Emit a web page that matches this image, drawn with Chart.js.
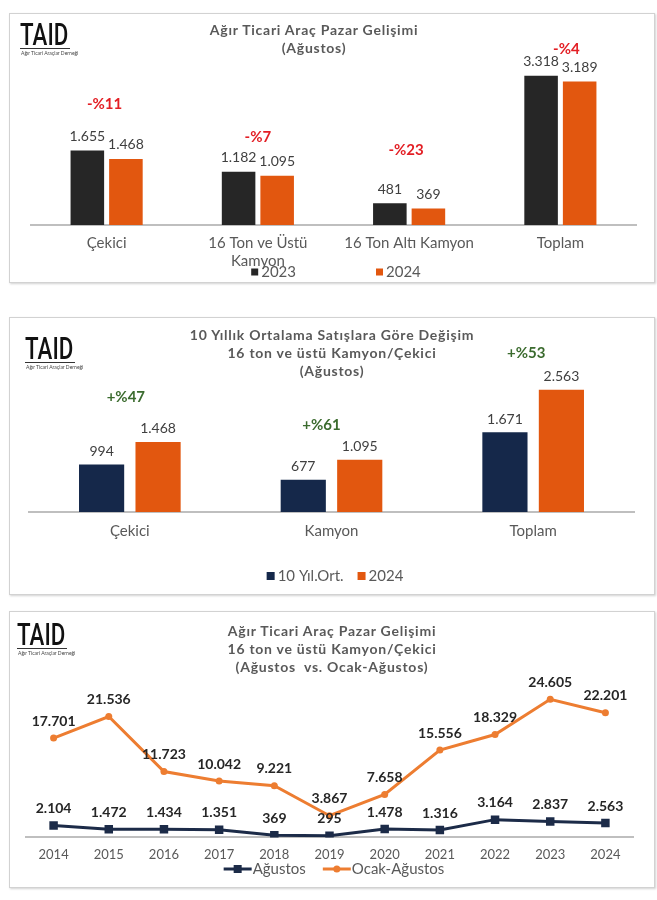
<!DOCTYPE html>
<html><head><meta charset="utf-8">
<script src="https://cdn.jsdelivr.net/npm/chart.js@4.4.1/dist/chart.umd.min.js"></script>
<style>
html,body{margin:0;padding:0;background:#fff;}
body{width:657px;height:900px;position:relative;overflow:hidden;font-family:Lato,sans-serif;}
.panel{position:absolute;left:9px;width:646px;border:1px solid #d2d2d2;box-sizing:border-box;box-shadow:1px 1px 2px rgba(0,0,0,0.18);background:#fff;}
canvas{position:absolute;left:0;}
.title{position:absolute;font-weight:bold;font-size:14px;line-height:18px;letter-spacing:0.75px;color:#595959;text-align:center;white-space:nowrap;transform:translateX(-50%);}
.logo{position:absolute;width:60px;height:40px;}
.logo .taid{position:absolute;left:0;top:0;font-family:Roboto,sans-serif;font-weight:500;font-size:31px;line-height:32px;color:#111;transform:scaleX(0.72);transform-origin:left top;white-space:nowrap;}
.logo .rule{position:absolute;left:0;top:29px;width:50px;height:1px;background:#333;}
.logo .sub{position:absolute;left:1px;top:31px;font-size:5px;line-height:6px;color:#444;white-space:nowrap;}
</style>
</head><body>
<div class="panel" style="top:13px;height:270px"></div>
<div class="panel" style="top:317px;height:278px"></div>
<div class="panel" style="top:611px;height:277px"></div>

<canvas id="c1" width="657" height="272" style="top:13px"></canvas>
<canvas id="c2" width="657" height="280" style="top:317px"></canvas>
<canvas id="c3" width="657" height="278" style="top:611px"></canvas>

<div class="logo" style="left:20px;top:19px"><div class="taid">TAID</div><div class="rule"></div><div class="sub">Ağır Ticari Araçlar Derneği</div></div>
<div class="logo" style="left:25px;top:333px"><div class="taid">TAID</div><div class="rule"></div><div class="sub">Ağır Ticari Araçlar Derneği</div></div>
<div class="logo" style="left:17px;top:619px"><div class="taid">TAID</div><div class="rule"></div><div class="sub">Ağır Ticari Araçlar Derneği</div></div>

<div class="title" style="left:314px;top:21px">Ağır Ticari Araç Pazar Gelişimi<br>(Ağustos)</div>
<div class="title" style="left:332px;top:326px">10 Yıllık Ortalama Satışlara Göre Değişim<br>16 ton ve üstü Kamyon/Çekici<br>(Ağustos)</div>
<div class="title" style="left:332px;top:622px">Ağır Ticari Araç Pazar Gelişimi<br>16 ton ve üstü Kamyon/Çekici<br>(Ağustos&nbsp; vs. Ocak-Ağustos)</div>

<script>
// ---------- DATA ----------
const categories1 = ['Çekici', ['16 Ton ve Üstü', 'Kamyon'], '16 Ton Altı Kamyon', 'Toplam'];
const sales2023 = [1655, 1182, 481, 3318];
const sales2024 = [1468, 1095, 369, 3189];
const change1 = ['-%11', '-%7', '-%23', '-%4'];

const categories2 = ['Çekici', 'Kamyon', 'Toplam'];
const avg10Year = [994, 677, 1671];
const sales2024b = [1468, 1095, 2563];
const change2 = ['+%47', '+%61', '+%53'];

const years = ['2014', '2015', '2016', '2017', '2018', '2019', '2020', '2021', '2022', '2023', '2024'];
const augustSales = [2104, 1472, 1434, 1351, 369, 295, 1478, 1316, 3164, 2837, 2563];
const janAugSales = [17701, 21536, 11723, 10042, 9221, 3867, 7658, 15556, 18329, 24605, 22201];

// ---------- STYLE ----------
const FONT = 'Lato, sans-serif';
const ORANGE = '#E2570F';
const LINE_ORANGE = '#ED7D31';
const DARK = '#262626';
const NAVY = '#15284A';
const LINE_NAVY = '#1C2B48';
const GRAY_TEXT = '#595959';

function fmt(n) { return String(n).replace(/\B(?=(\d{3})+(?!\d))/g, '.'); }

const valueLabels = {
  id: 'valueLabels',
  afterDatasetsDraw(chart, args, o) {
    const ctx = chart.ctx; ctx.save();
    ctx.font = (o.bold ? 'bold ' : '') + o.fontSize + 'px ' + FONT;
    ctx.fillStyle = o.color; ctx.textAlign = 'center'; ctx.textBaseline = 'middle';
    chart.data.datasets.forEach((ds, di) => {
      chart.getDatasetMeta(di).data.forEach((el, i) => {
        ctx.fillText(fmt(ds.data[i]), el.x, el.y - o.offset);
      });
    });
    ctx.restore();
  }
};

const changeLabels = {
  id: 'changeLabels',
  afterDatasetsDraw(chart, args, o) {
    const ctx = chart.ctx; ctx.save();
    ctx.font = 'bold ' + o.fontSize + 'px ' + FONT;
    ctx.fillStyle = o.color; ctx.textAlign = 'center'; ctx.textBaseline = 'middle';
    const metas = chart.data.datasets.map((_, i) => chart.getDatasetMeta(i));
    o.labels.forEach((txt, i) => {
      const top = Math.min(...metas.map(m => m.data[i].y));
      const x = chart.scales.x.getPixelForValue(i) + (o.dx[i] || 0);
      ctx.fillText(txt, x, top - o.offsets[i]);
    });
    ctx.restore();
  }
};

const panelLegend = {
  id: 'panelLegend',
  afterDraw(chart, args, o) {
    const ctx = chart.ctx; ctx.save();
    ctx.font = o.fontSize + 'px ' + FONT;
    const items = chart.data.datasets.map(ds => ({ text: ds.label, color: ds.borderColor || ds.backgroundColor, style: ds.pointStyle }));
    const mw = o.marker === 'line' ? o.lineLen : o.box;
    const widths = items.map(it => mw + o.textGap + ctx.measureText(it.text).width);
    const total = widths.reduce((a, b) => a + b, 0) + o.gap * (items.length - 1);
    let x = o.centerX - total / 2;
    const y = o.y;
    items.forEach((it, i) => {
      if (o.marker === 'line') {
        ctx.strokeStyle = it.color; ctx.lineWidth = 3;
        ctx.beginPath(); ctx.moveTo(x, y); ctx.lineTo(x + mw, y); ctx.stroke();
        ctx.fillStyle = it.color;
        if (it.style === 'rect') { ctx.fillRect(x + mw / 2 - 4, y - 4, 8, 8); }
        else { ctx.beginPath(); ctx.arc(x + mw / 2, y, 3.5, 0, Math.PI * 2); ctx.fill(); }
      } else {
        ctx.fillStyle = it.color; ctx.fillRect(x, y - o.box / 2, o.box, o.box);
      }
      ctx.fillStyle = o.color; ctx.textAlign = 'left'; ctx.textBaseline = 'middle';
      ctx.fillText(it.text, x + mw + o.textGap, y);
      x += widths[i] + o.gap;
    });
    ctx.restore();
  }
};

Chart.defaults.font.family = FONT;
Chart.defaults.animation = false;

// ---------- CHART 1 ----------
new Chart(document.getElementById('c1'), {
  type: 'bar',
  data: {
    labels: categories1,
    datasets: [
      { label: '2023', data: sales2023, backgroundColor: DARK, categoryPercentage: 0.51, barPercentage: 0.87 },
      { label: '2024', data: sales2024, backgroundColor: ORANGE, categoryPercentage: 0.51, barPercentage: 0.87 }
    ]
  },
  options: {
    responsive: false,
    layout: { padding: { left: 31, right: 21, top: 32, bottom: 6 } },
    scales: {
      x: { grid: { display: false, drawTicks: false }, border: { display: true, color: '#BFBFBF', width: 2 },
           ticks: { color: GRAY_TEXT, font: { size: 15 }, padding: 9, maxRotation: 0, autoSkip: false } },
      y: { display: false, min: 0, max: 4000 }
    },
    plugins: {
      legend: { display: false }, tooltip: { enabled: false },
      valueLabels: { fontSize: 14, color: '#404040', offset: 14 },
      changeLabels: { labels: change1, fontSize: 15, color: '#E31E24', offsets: [46, 35, 53, 27], dx: [-2, 0, -3, 6] },
      panelLegend: { y: 259, centerX: 336, fontSize: 15, color: GRAY_TEXT, box: 7, textGap: 3, gap: 80 }
    }
  },
  plugins: [valueLabels, changeLabels, panelLegend]
});

// ---------- CHART 2 ----------
new Chart(document.getElementById('c2'), {
  type: 'bar',
  data: {
    labels: categories2,
    datasets: [
      { label: '10 Yıl.Ort.', data: avg10Year, backgroundColor: NAVY, categoryPercentage: 0.56, barPercentage: 0.8 },
      { label: '2024', data: sales2024b, backgroundColor: ORANGE, categoryPercentage: 0.56, barPercentage: 0.8 }
    ]
  },
  options: {
    responsive: false,
    layout: { padding: { left: 29, right: 23, top: 28, bottom: 47 } },
    scales: {
      x: { grid: { display: false, drawTicks: false }, border: { display: true, color: '#BFBFBF', width: 2 },
           ticks: { color: GRAY_TEXT, font: { size: 15 }, padding: 10, maxRotation: 0, autoSkip: false } },
      y: { display: false, min: 0, max: 3500 }
    },
    plugins: {
      legend: { display: false }, tooltip: { enabled: false },
      valueLabels: { fontSize: 14, color: '#404040', offset: 13 },
      changeLabels: { labels: change2, fontSize: 15, color: '#3B6B2E', offsets: [45, 35, 37], dx: [-4, -10, -7] },
      panelLegend: { y: 259, centerX: 335, fontSize: 15, color: GRAY_TEXT, box: 8, textGap: 3, gap: 14 }
    }
  },
  plugins: [valueLabels, changeLabels, panelLegend]
});

// ---------- CHART 3 ----------
new Chart(document.getElementById('c3'), {
  type: 'line',
  data: {
    labels: years,
    datasets: [
      { label: 'Ağustos', data: augustSales, borderColor: LINE_NAVY, backgroundColor: LINE_NAVY, borderWidth: 3,
        pointStyle: 'rect', pointRadius: 6, pointBackgroundColor: LINE_NAVY, pointBorderWidth: 0, tension: 0 },
      { label: 'Ocak-Ağustos', data: janAugSales, borderColor: LINE_ORANGE, backgroundColor: LINE_ORANGE, borderWidth: 3,
        pointStyle: 'circle', pointRadius: 3.5, pointBackgroundColor: LINE_ORANGE, pointBorderWidth: 0, tension: 0 }
    ]
  },
  options: {
    responsive: false,
    layout: { padding: { left: 26, right: 24, top: 58, bottom: 16 } },
    scales: {
      x: { offset: true, grid: { display: false, drawTicks: false }, border: { display: true, color: '#BFBFBF', width: 2 },
           ticks: { color: GRAY_TEXT, font: { size: 13 }, padding: 10, maxRotation: 0, autoSkip: false } },
      y: { display: false, min: 0, max: 30000 }
    },
    plugins: {
      legend: { display: false }, tooltip: { enabled: false },
      valueLabels: { fontSize: 14, bold: true, color: '#262626', offset: 17 },
      panelLegend: { y: 258, centerX: 334, fontSize: 15, color: GRAY_TEXT, marker: 'line', lineLen: 28, textGap: 1, gap: 17 }
    }
  },
  plugins: [valueLabels, panelLegend]
});
</script>
</body></html>
